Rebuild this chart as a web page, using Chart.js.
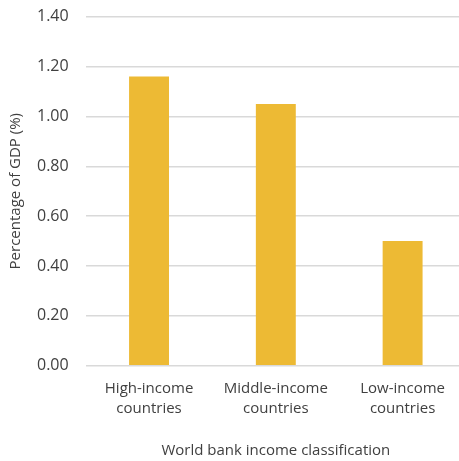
<!DOCTYPE html>
<html>
<head>
<meta charset="utf-8">
<script src="https://cdn.jsdelivr.net/npm/chart.js@4"></script>
<style>
  html, body { margin: 0; padding: 0; background: #fff; overflow: hidden; }
  #wrap { width: 466px; height: 461px; }
</style>
</head>
<body>
<div id="wrap"><canvas id="grafico"></canvas></div>
<script>
// dados
const categorias = [
    ['High-income', 'countries'],
    ['Middle-income', 'countries'],
    ['Low-income', 'countries']
];
const valores = [1.16, 1.05, 0.50];
const tituloX = 'World bank income classification';
const tituloY = 'Percentage of GDP (%)';

const corTexto = '#404040';
const fonte = "'Open Sans', sans-serif";

const ctx = document.getElementById('grafico');

new Chart(ctx, {
    type: 'bar',
    data: {
        labels: categorias,
        datasets: [{
            data: valores,
            backgroundColor: '#EDBA34',
            borderWidth: 0,
            barPercentage: 0.315,
            categoryPercentage: 1
        }]
    },
    options: {
        responsive: true,
        maintainAspectRatio: false,
        animation: false,
        layout: { padding: 0 },
        plugins: {
            legend: { display: false },
            tooltip: { enabled: false }
        },
        scales: {
            x: {
                grid: { display: false, drawTicks: false },
                border: { display: false },
                ticks: {
                    color: corTexto,
                    font: { family: fonte, size: 15, lineHeight: 1.3 },
                    padding: 13.5,
                    maxRotation: 0
                },
                title: {
                    display: true,
                    text: tituloX,
                    color: corTexto,
                    font: { family: fonte, size: 15 },
                    padding: { top: 10.3, bottom: 1 }
                }
            },
            y: {
                min: 0,
                max: 1.4,
                grid: { color: '#d9d9d9', lineWidth: 1.5, drawTicks: false },
                border: { display: false },
                ticks: {
                    stepSize: 0.2,
                    color: corTexto,
                    font: { family: fonte, size: 16 },
                    padding: 17,
                    callback: v => v.toFixed(2)
                },
                title: {
                    display: true,
                    text: tituloY,
                    color: corTexto,
                    font: { family: fonte, size: 15 },
                    padding: { top: 7, bottom: -5 }
                },
                // o padding dos ticks empurra o topo do gráfico, fixa na mão
                afterFit: escala => {
                    escala.paddingTop = 16.7;
                    escala.paddingBottom = 9;
                }
            }
        }
    }
});
</script>
</body>
</html>
